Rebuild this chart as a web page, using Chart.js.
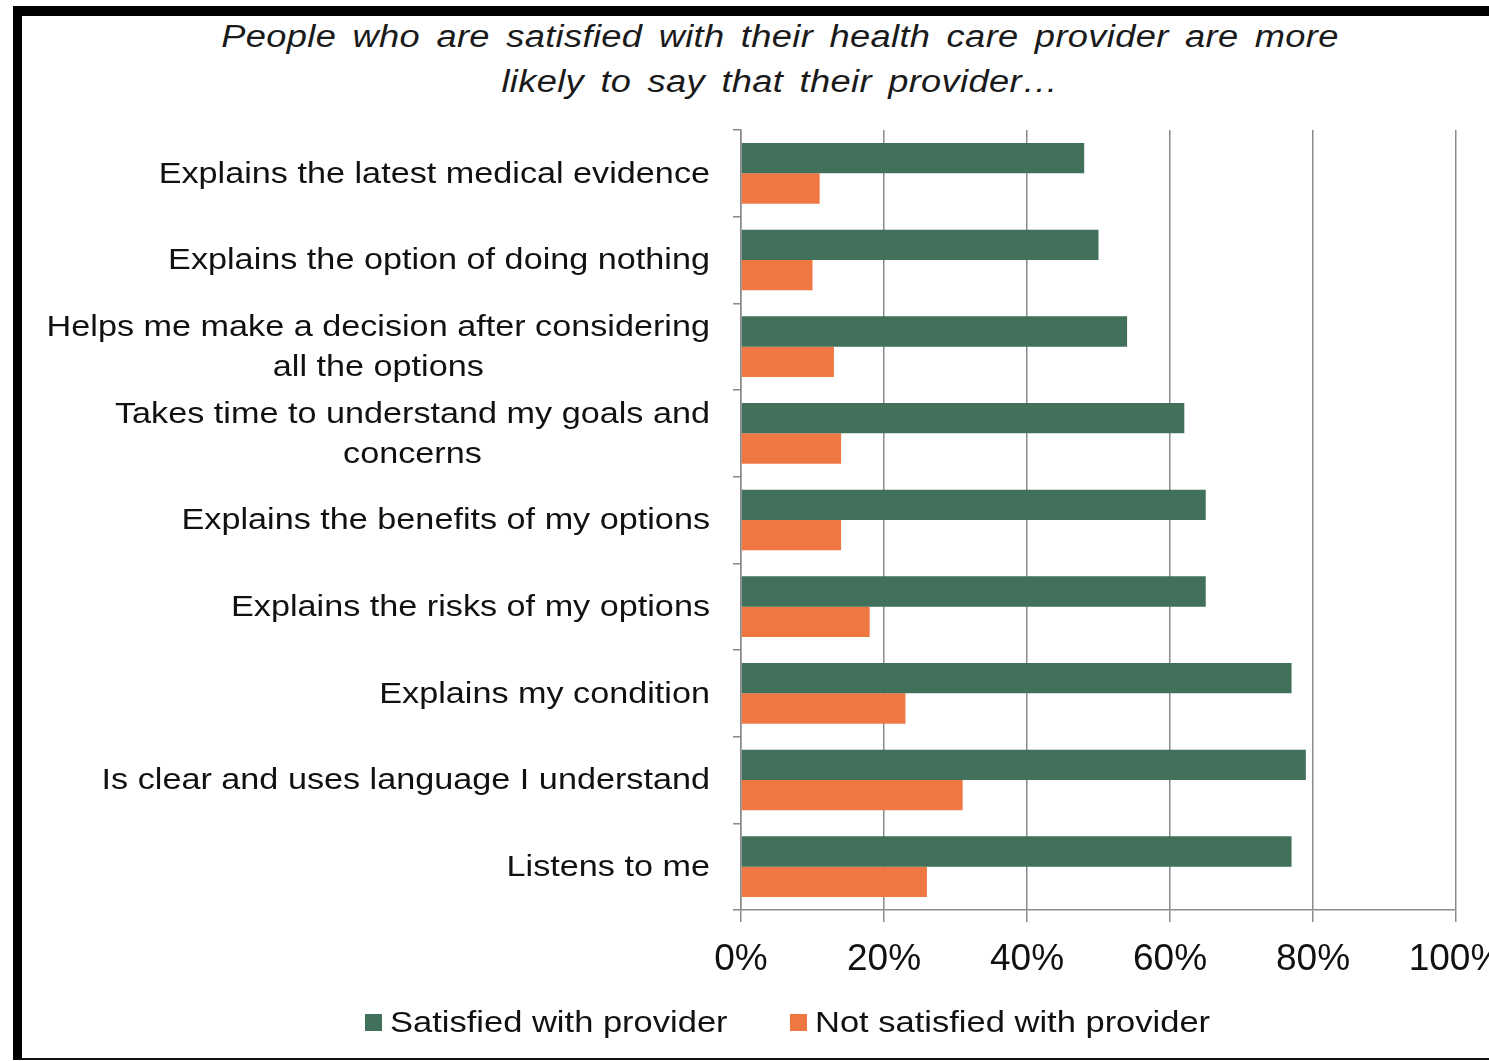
<!DOCTYPE html>
<html>
<head>
<meta charset="utf-8">
<script src="https://cdn.jsdelivr.net/npm/chart.js@4.4.1/dist/chart.umd.min.js"></script>
<style>
  html, body { margin: 0; padding: 0; background: #fff; overflow: hidden; width: 1489px; height: 1061px; }
  #frame { position: absolute; left: 13px; top: 6px; width: 1600px; height: 1054px; box-sizing: border-box;
           border-top: 10px solid #000; border-left: 9px solid #000; border-bottom: 2px solid #111; }
  #chart { position: absolute; left: 0; top: 0; }
  #title { position: absolute; left: 0; top: 14px; width: 1560px; text-align: center;
           font: italic 31px "Liberation Sans", Arial, sans-serif; line-height: 45px; color: #1a1a1a;
           word-spacing: 5px; letter-spacing: 0.3px; transform: scaleX(1.17); transform-origin: 780px 0; }
  .lg-box { position: absolute; width: 17px; height: 17px; top: 1014px; }
  .lg-text { position: absolute; top: 1008px; font: 29px "Liberation Sans", Arial, sans-serif; line-height: 29px;
             color: #111; white-space: nowrap; transform: scaleX(1.19); transform-origin: 0 0; }
</style>
</head>
<body>
<div id="frame"></div>
<div id="title">People who are satisfied with their health care provider are more<br>likely to say that their provider…</div>
<canvas id="chart" width="1560" height="1061"></canvas>
<div id="legend"></div>
<script>
// categories (top to bottom), each one an array of label lines
var categories = [
  ["Explains the latest medical evidence"],
  ["Explains the option of doing nothing"],
  ["Helps me make a decision after considering", "all the options"],
  ["Takes time to understand my goals and", "concerns"],
  ["Explains the benefits of my options"],
  ["Explains the risks of my options"],
  ["Explains my condition"],
  ["Is clear and uses language I understand"],
  ["Listens to me"]
];
var seriesNames = ["Satisfied with provider", "Not satisfied with provider"];
var satisfied = [48, 50, 54, 62, 65, 65, 77, 79, 77];
var notSatisfied = [11, 10, 13, 14, 14, 18, 23, 31, 26];
var xTicks = [0, 20, 40, 60, 80, 100];

var green = "#42715b";
var orange = "#ef7842";
var gridGray = "#8a8a8a";
var STRETCH = 1.14;

// category labels: block right aligned next to the axis, each line centred in the block
var yLabels = {
  id: "yLabels",
  afterDraw: function(chart) {
    var ctx = chart.ctx;
    var yScale = chart.scales.y;
    var right = chart.chartArea.left - 31;
    ctx.save();
    ctx.font = '30px "Liberation Sans", Arial, sans-serif';
    ctx.fillStyle = "#111";
    ctx.textBaseline = "middle";
    ctx.textAlign = "center";
    for (var i = 0; i < categories.length; i++) {
      var lines = categories[i];
      var cy = yScale.getPixelForValue(i) + 1;
      var widest = 0;
      lines.forEach(function(l) { widest = Math.max(widest, ctx.measureText(l).width); });
      var cx = right - widest * STRETCH / 2;
      for (var j = 0; j < lines.length; j++) {
        var ly = cy + (j - (lines.length - 1) / 2) * 40;
        ctx.save();
        ctx.translate(cx, ly);
        ctx.scale(STRETCH, 1);
        ctx.fillText(lines[j], 0, 0);
        ctx.restore();
      }
    }
    ctx.restore();
  }
};

var chart = new Chart(document.getElementById("chart"), {
  type: "bar",
  data: {
    labels: categories.map(function(c) { return c.join(" "); }),
    datasets: [
      { label: seriesNames[0], data: satisfied, backgroundColor: green, borderWidth: 0 },
      { label: seriesNames[1], data: notSatisfied, backgroundColor: orange, borderWidth: 0 }
    ]
  },
  options: {
    indexAxis: "y",
    responsive: false,
    animation: false,
    layout: { padding: { top: 130, right: 104, left: 0, bottom: 0 } },
    datasets: { bar: { categoryPercentage: 0.7, barPercentage: 1.0 } },
    plugins: { legend: { display: false }, title: { display: false }, tooltip: { enabled: false } },
    scales: {
      y: {
        grid: { offset: true, drawOnChartArea: false, tickLength: 8, color: gridGray, lineWidth: 1.5 },
        border: { color: gridGray, width: 1.5 },
        ticks: { display: false },
        afterFit: function(scale) { scale.width = 741; }
      },
      x: {
        min: 0,
        max: 100,
        afterBuildTicks: function(scale) { scale.ticks = xTicks.map(function(v) { return { value: v }; }); },
        ticks: {
          callback: function(v) { return v + "%"; },
          font: { family: '"Liberation Sans", Arial, sans-serif', size: 37 },
          color: "#111",
          padding: 16,
          maxRotation: 0,
          autoSkip: false
        },
        grid: { color: gridGray, tickLength: 12, lineWidth: 1.5 },
        border: { color: gridGray, width: 1.5 },
        afterFit: function(scale) { scale.height = 151; }
      }
    }
  },
  plugins: [yLabels]
});

// legend
var legendX = [365, 790];
var legendColors = [green, orange];
var legend = document.getElementById("legend");
seriesNames.forEach(function(name, i) {
  var box = document.createElement("div");
  box.className = "lg-box";
  box.style.left = legendX[i] + "px";
  box.style.background = legendColors[i];
  legend.appendChild(box);
  var txt = document.createElement("div");
  txt.className = "lg-text";
  txt.style.left = (legendX[i] + 25) + "px";
  txt.textContent = name;
  legend.appendChild(txt);
});
</script>
</body>
</html>
